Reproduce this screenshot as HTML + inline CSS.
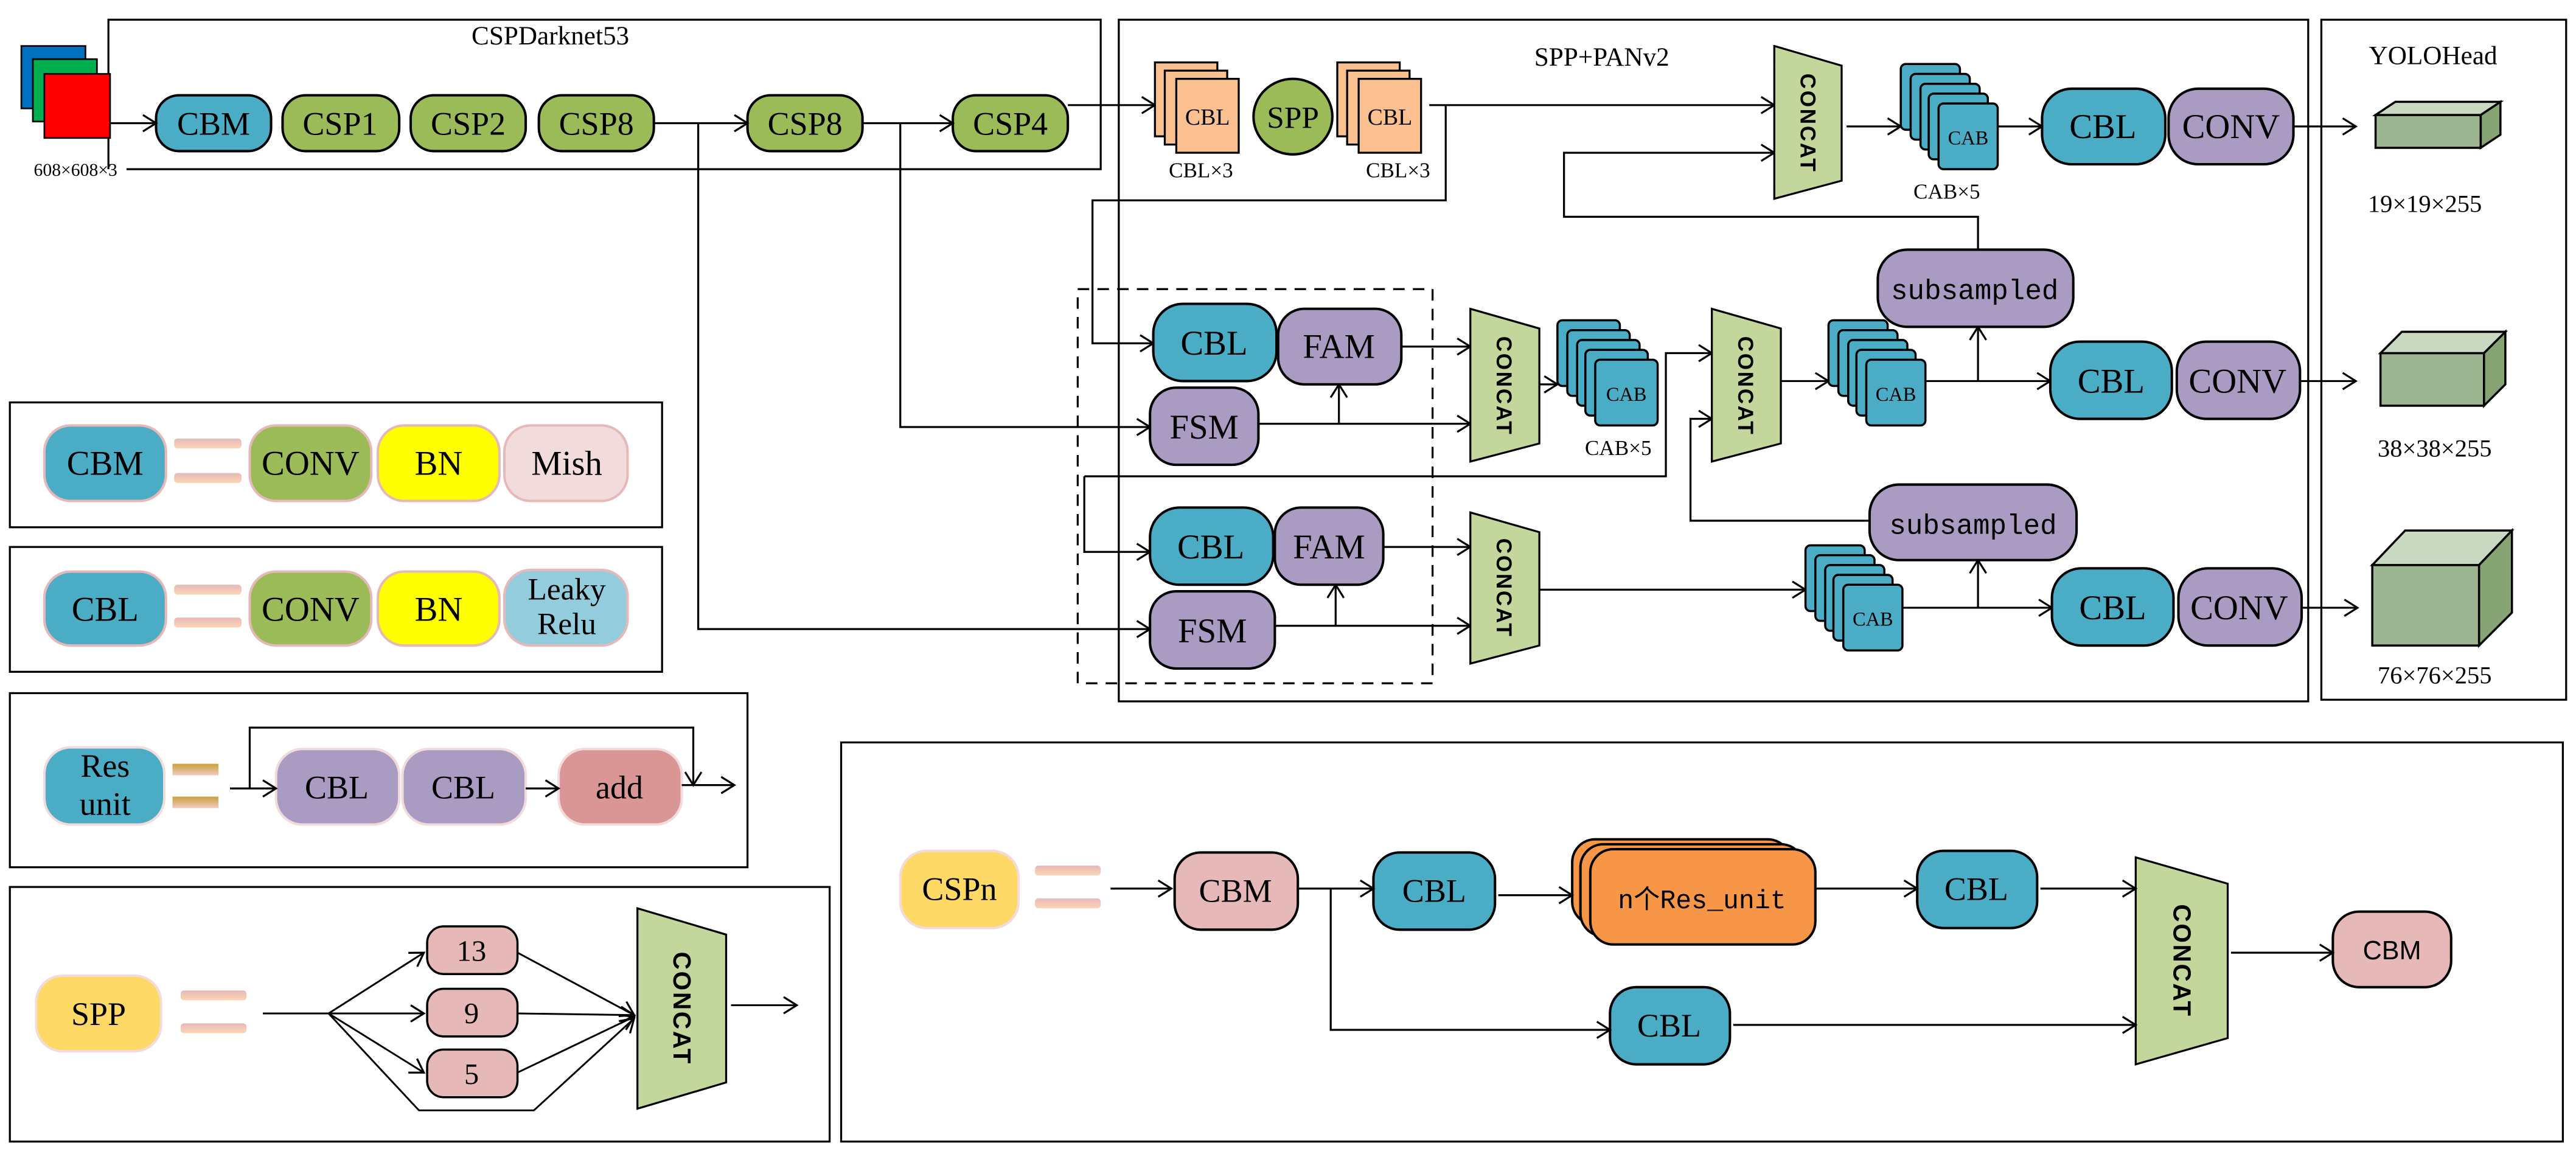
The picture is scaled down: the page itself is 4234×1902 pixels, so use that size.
<!DOCTYPE html>
<html><head><meta charset="utf-8"><style>
html,body{margin:0;padding:0;background:#fff}
svg{display:block}
</style></head><body>
<svg width="4234" height="1902" viewBox="0 0 1568 704.4" preserveAspectRatio="none" xmlns="http://www.w3.org/2000/svg" font-family="'Liberation Serif', serif">
<defs>
<marker id="a" markerWidth="12" markerHeight="12" refX="10" refY="6" orient="auto" markerUnits="userSpaceOnUse"><path d="M2,1 L10,6 L2,11" fill="none" stroke="#000" stroke-width="1.2"/></marker>
<linearGradient id="gb" x1="0" y1="0" x2="0" y2="1"><stop offset="0" stop-color="#c9a23a"/><stop offset="1" stop-color="#f2c9c0"/></linearGradient>
<linearGradient id="pb" x1="0" y1="0" x2="0" y2="1"><stop offset="0" stop-color="#e6b9b8"/><stop offset="1" stop-color="#fbd5b5"/></linearGradient>
</defs>
<g fill="none" stroke="#000" stroke-width="1.2">
<polyline points="66,103 66,12 670,12 670,103 77,103"/>
<rect x="681" y="12" width="724" height="415"/>
<rect x="1413" y="12" width="149" height="414"/>
<rect x="656" y="176" width="216" height="240" stroke-dasharray="7,5"/>
<rect x="6" y="245" width="397" height="76"/>
<rect x="6" y="333" width="397" height="76"/>
<rect x="6" y="422" width="449" height="106"/>
<rect x="6" y="540" width="499" height="155"/>
<rect x="512" y="452" width="1048" height="243"/>
</g>
<rect x="13" y="28" width="39" height="38" fill="#0070c0" stroke="#000"/>
<rect x="20" y="36" width="39" height="38" fill="#00b050" stroke="#000"/>
<rect x="27" y="45" width="40" height="39" fill="#ff0000" stroke="#000"/>
<text x="46" y="107" font-size="11" text-anchor="middle">608×608×3</text>
<text x="335" y="27" font-size="16" text-anchor="middle">CSPDarknet53</text>
<text x="975" y="40" font-size="16" text-anchor="middle">SPP+PANv2</text>
<text x="1481" y="39" font-size="16" text-anchor="middle">YOLOHead</text>
<g stroke="#000" stroke-width="1.5">
<rect x="95" y="58" width="70" height="34" rx="14" fill="#4bacc6"/>
<rect x="172" y="58" width="71" height="34" rx="14" fill="#9bbb59"/>
<rect x="250" y="58" width="70" height="34" rx="14" fill="#9bbb59"/>
<rect x="328" y="58" width="70" height="34" rx="14" fill="#9bbb59"/>
<rect x="455" y="58" width="70" height="34" rx="14" fill="#9bbb59"/>
<rect x="580" y="58" width="70" height="34" rx="14" fill="#9bbb59"/>
</g>
<g font-size="20" text-anchor="middle">
<text x="130" y="82">CBM</text><text x="207" y="82">CSP1</text><text x="285" y="82">CSP2</text><text x="363" y="82">CSP8</text><text x="490" y="82">CSP8</text><text x="615" y="82">CSP4</text>
</g>
<g fill="none" stroke="#000" stroke-width="1.2" marker-end="url(#a)">
<line x1="67" y1="75" x2="95" y2="75"/>
<line x1="398" y1="75" x2="455" y2="75"/>
<line x1="525" y1="75" x2="580" y2="75"/>
<line x1="650" y1="64" x2="703" y2="64"/>
<polyline points="425,75 425,383 700,383"/>
<polyline points="548,75 548,260 700,260"/>
<polyline points="870,64 1080,64"/>
<polyline points="880,64 880,122 665,122 665,209 702,209"/>
<polyline points="1204,152 1204,132 952,132 952,93 1080,93"/>
<line x1="1124" y1="77" x2="1157" y2="77"/>
<line x1="1216" y1="77" x2="1243" y2="77"/>
<line x1="1396" y1="77" x2="1434" y2="77"/>
<line x1="853" y1="211" x2="895" y2="211"/>
<line x1="766" y1="258" x2="895" y2="258"/>
<line x1="815" y1="258" x2="815" y2="234"/>
<line x1="937" y1="234" x2="948" y2="234"/>
<polyline points="660,290 1014,290 1014,215 1042,215"/>
<polyline points="660,290 660,336 700,336"/>
<polyline points="1138,317 1029,317 1029,255 1042,255"/>
<line x1="1084" y1="232" x2="1113" y2="232"/>
<line x1="1172" y1="232" x2="1248" y2="232"/>
<line x1="1204" y1="232" x2="1204" y2="199"/>
<line x1="1400" y1="232" x2="1434" y2="232"/>
<line x1="842" y1="333" x2="895" y2="333"/>
<line x1="776" y1="381" x2="895" y2="381"/>
<line x1="813" y1="381" x2="813" y2="356"/>
<line x1="937" y1="359" x2="1099" y2="359"/>
<line x1="1158" y1="370" x2="1249" y2="370"/>
<line x1="1204" y1="370" x2="1204" y2="341"/>
<line x1="1401" y1="370" x2="1435" y2="370"/>
</g>
<g stroke="#000" stroke-width="1.2" fill="#fac090">
<rect x="703" y="38" width="38" height="45"/><rect x="709" y="43" width="38" height="45"/><rect x="716" y="48" width="38" height="45"/>
<rect x="814" y="38" width="38" height="45"/><rect x="820" y="43" width="38" height="45"/><rect x="827" y="48" width="38" height="45"/>
</g>
<ellipse cx="787" cy="71" rx="24" ry="23" fill="#9bbb59" stroke="#000" stroke-width="1.5"/>
<text x="735" y="76" font-size="14" text-anchor="middle">CBL</text>
<text x="846" y="76" font-size="14" text-anchor="middle">CBL</text>
<text x="787" y="78" font-size="19" text-anchor="middle">SPP</text>
<text x="731" y="108" font-size="13" text-anchor="middle">CBL×3</text>
<text x="851" y="108" font-size="13" text-anchor="middle">CBL×3</text>
<g fill="#c3d69b" stroke="#000" stroke-width="1.2">
<polygon points="1080,28 1121,40 1121,110 1080,121"/>
<polygon points="895,188 937,200 937,270 895,281"/>
<polygon points="1042,188 1084,200 1084,270 1042,281"/>
<polygon points="895,312 937,324 937,393 895,404"/>
<polygon points="388,553 442,569 442,659 388,675"/>
<polygon points="1300,522 1356,538 1356,632 1300,648"/>
</g>
<g font-family="'Liberation Sans', sans-serif" font-weight="bold" font-size="13" letter-spacing="1" text-anchor="middle">
<text transform="translate(1096,75) rotate(90)">CONCAT</text>
<text transform="translate(911,235) rotate(90)">CONCAT</text>
<text transform="translate(1058,235) rotate(90)">CONCAT</text>
<text transform="translate(911,358) rotate(90)">CONCAT</text>
<text transform="translate(410,614) rotate(90)" font-size="15">CONCAT</text>
<text transform="translate(1323,585) rotate(90)" font-size="15">CONCAT</text>
</g>
<g stroke="#000" stroke-width="1.3" fill="#4bacc6">
<rect x="1157" y="39" width="36" height="40" rx="3"/><rect x="1163" y="45" width="36" height="40" rx="3"/><rect x="1169" y="51" width="36" height="40" rx="3"/><rect x="1174" y="57" width="36" height="40" rx="3"/><rect x="1180" y="63" width="36" height="40" rx="3"/>
<rect x="948" y="195" width="38" height="40" rx="3"/><rect x="954" y="201" width="38" height="40" rx="3"/><rect x="960" y="207" width="38" height="40" rx="3"/><rect x="965" y="213" width="38" height="40" rx="3"/><rect x="971" y="219" width="38" height="40" rx="3"/>
<rect x="1113" y="195" width="36" height="40" rx="3"/><rect x="1119" y="201" width="36" height="40" rx="3"/><rect x="1125" y="207" width="36" height="40" rx="3"/><rect x="1130" y="213" width="36" height="40" rx="3"/><rect x="1136" y="219" width="36" height="40" rx="3"/>
<rect x="1099" y="332" width="36" height="40" rx="3"/><rect x="1105" y="338" width="36" height="40" rx="3"/><rect x="1111" y="344" width="36" height="40" rx="3"/><rect x="1116" y="350" width="36" height="40" rx="3"/><rect x="1122" y="356" width="36" height="40" rx="3"/>
</g>
<g font-size="12" text-anchor="middle">
<text x="1198" y="88">CAB</text><text x="990" y="244">CAB</text><text x="1154" y="244">CAB</text><text x="1140" y="381">CAB</text>
</g>
<text x="1185" y="121" font-size="13" text-anchor="middle">CAB×5</text>
<text x="985" y="277" font-size="13" text-anchor="middle">CAB×5</text>
<g stroke="#000" stroke-width="1.5">
<rect x="1243" y="54" width="75" height="46" rx="18" fill="#4bacc6"/><rect x="1320" y="54" width="76" height="46" rx="18" fill="#a99bc2"/>
<rect x="1248" y="208" width="74" height="47" rx="18" fill="#4bacc6"/><rect x="1325" y="208" width="75" height="47" rx="18" fill="#a99bc2"/>
<rect x="1249" y="346" width="74" height="47" rx="18" fill="#4bacc6"/><rect x="1326" y="346" width="75" height="47" rx="18" fill="#a99bc2"/>
<rect x="1143" y="152" width="119" height="47" rx="18" fill="#a99bc2"/>
<rect x="1138" y="295" width="126" height="46" rx="18" fill="#a99bc2"/>
<rect x="702" y="185" width="75" height="47" rx="18" fill="#4bacc6"/><rect x="778" y="188" width="75" height="46" rx="16" fill="#a99bc2"/>
<rect x="700" y="236" width="66" height="47" rx="16" fill="#a99bc2"/>
<rect x="700" y="309" width="75" height="47" rx="18" fill="#4bacc6"/><rect x="776" y="309" width="66" height="47" rx="16" fill="#a99bc2"/>
<rect x="700" y="360" width="76" height="47" rx="16" fill="#a99bc2"/>
</g>
<g font-size="21" text-anchor="middle">
<text x="1280" y="84">CBL</text><text x="1358" y="84">CONV</text>
<text x="1285" y="239">CBL</text><text x="1362" y="239">CONV</text>
<text x="1286" y="377">CBL</text><text x="1363" y="377">CONV</text>
<text x="739" y="216">CBL</text><text x="815" y="218">FAM</text><text x="733" y="267">FSM</text>
<text x="737" y="340">CBL</text><text x="809" y="340">FAM</text><text x="738" y="391">FSM</text>
</g>
<g font-family="'Liberation Mono', monospace" font-size="17" text-anchor="middle">
<text x="1202" y="182">subsampled</text>
<text x="1201" y="325">subsampled</text>
</g>
<g stroke="#000" stroke-width="1.3">
<rect x="1446" y="70" width="64" height="20" fill="#9eb592"/><polygon points="1446,70 1458,62 1522,62 1510,70" fill="#c9d8c0"/><polygon points="1510,70 1522,62 1522,82 1510,90" fill="#86a373"/>
<rect x="1449" y="215" width="63" height="32" fill="#9eb592"/><polygon points="1449,215 1462,202 1525,202 1512,215" fill="#c9d8c0"/><polygon points="1512,215 1525,202 1525,234 1512,247" fill="#86a373"/>
<rect x="1444" y="344" width="65" height="49" fill="#9eb592"/><polygon points="1444,344 1464,323 1529,323 1509,344" fill="#c9d8c0"/><polygon points="1509,344 1529,323 1529,373 1509,393" fill="#86a373"/>
</g>
<g font-size="15" text-anchor="middle">
<text x="1476" y="129">19×19×255</text><text x="1482" y="278">38×38×255</text><text x="1482" y="416">76×76×255</text>
</g>
<g stroke="#e6b9b8" stroke-width="1.5">
<rect x="27" y="259" width="74" height="46" rx="16" fill="#4bacc6"/><rect x="152" y="259" width="74" height="46" rx="16" fill="#9bbb59"/><rect x="230" y="259" width="74" height="46" rx="16" fill="#ffff00"/><rect x="307" y="259" width="75" height="46" rx="16" fill="#f2dcdb"/>
<rect x="27" y="348" width="74" height="45" rx="16" fill="#4bacc6"/><rect x="152" y="348" width="74" height="45" rx="16" fill="#9bbb59"/><rect x="230" y="348" width="74" height="45" rx="16" fill="#ffff00"/><rect x="307" y="347" width="75" height="46" rx="16" fill="#93cddd"/>
</g>
<g fill="url(#pb)"><rect x="106" y="267" width="41" height="6" rx="2"/><rect x="106" y="288" width="41" height="6" rx="2"/><rect x="106" y="356" width="41" height="6" rx="2"/><rect x="106" y="376" width="41" height="6" rx="2"/></g>
<g font-size="21" text-anchor="middle">
<text x="64" y="289">CBM</text><text x="189" y="289">CONV</text><text x="267" y="289">BN</text><text x="345" y="289">Mish</text>
<text x="64" y="378">CBL</text><text x="189" y="378">CONV</text><text x="267" y="378">BN</text><text x="345" y="365" font-size="19">Leaky</text><text x="345" y="386" font-size="19">Relu</text>
</g>
<g stroke="#f2dcdb" stroke-width="1.5">
<rect x="27" y="455" width="73" height="47" rx="16" fill="#4bacc6"/>
<rect x="168" y="456" width="75" height="46" rx="16" fill="#a99bc2"/><rect x="245" y="456" width="75" height="46" rx="16" fill="#a99bc2"/><rect x="340" y="456" width="75" height="46" rx="16" fill="#d99694"/>
</g>
<rect x="105" y="465" width="28" height="7" fill="url(#gb)"/><rect x="105" y="485" width="28" height="7" fill="url(#gb)"/>
<g font-size="20" text-anchor="middle"><text x="64" y="473">Res</text><text x="64" y="496">unit</text><text x="205" y="486">CBL</text><text x="282" y="486">CBL</text><text x="377" y="486">add</text></g>
<g fill="none" stroke="#000" stroke-width="1.2" marker-end="url(#a)">
<line x1="140" y1="480" x2="168" y2="480"/><line x1="320" y1="480" x2="340" y2="480"/>
<polyline points="152,480 152,443 422,443 422,478"/>
<line x1="415" y1="478" x2="447" y2="478"/>
</g>
<rect x="22" y="594" width="76" height="46" rx="16" fill="#ffd966" stroke="#f2dcdb" stroke-width="1.5"/>
<rect x="110" y="603" width="40" height="6" rx="2" fill="url(#pb)"/><rect x="110" y="623" width="40" height="6" rx="2" fill="url(#pb)"/>
<text x="60" y="624" font-size="20" text-anchor="middle">SPP</text>
<g stroke="#000" stroke-width="1.3" fill="#e6b9b8">
<rect x="260" y="564" width="55" height="29" rx="10"/><rect x="260" y="602" width="55" height="29" rx="10"/><rect x="260" y="639" width="55" height="29" rx="10"/>
</g>
<g font-size="18" text-anchor="middle"><text x="287" y="585">13</text><text x="287" y="623">9</text><text x="287" y="660">5</text></g>
<g fill="none" stroke="#000" stroke-width="1.1">
<line x1="160" y1="617" x2="200" y2="617"/>
<line x1="200" y1="617" x2="258" y2="580" marker-end="url(#a)"/>
<line x1="200" y1="617" x2="258" y2="617" marker-end="url(#a)"/>
<line x1="200" y1="617" x2="258" y2="653" marker-end="url(#a)"/>
<polyline points="200,617 255,676 325,676 386,620" marker-end="url(#a)"/>
<line x1="315" y1="580" x2="386" y2="618" marker-end="url(#a)"/>
<line x1="315" y1="617" x2="386" y2="618" marker-end="url(#a)"/>
<line x1="315" y1="653" x2="386" y2="619" marker-end="url(#a)"/>
<line x1="445" y1="612" x2="485" y2="612" marker-end="url(#a)"/>
</g>
<rect x="548" y="518" width="72" height="47" rx="16" fill="#ffd966" stroke="#f2dcdb" stroke-width="1.5"/>
<rect x="630" y="527" width="40" height="6" rx="2" fill="url(#pb)"/><rect x="630" y="547" width="40" height="6" rx="2" fill="url(#pb)"/>
<g stroke="#000" stroke-width="1.5">
<rect x="715" y="519" width="75" height="47" rx="16" fill="#e6b9b8"/>
<rect x="836" y="519" width="74" height="47" rx="16" fill="#4bacc6"/>
<rect x="980" y="601" width="73" height="47" rx="16" fill="#4bacc6"/>
<rect x="1167" y="518" width="73" height="47" rx="16" fill="#4bacc6"/>
<rect x="1420" y="555" width="72" height="46" rx="16" fill="#e6b9b8"/>
<rect x="957" y="511" width="133" height="52" rx="14" fill="#f79646"/>
<rect x="962" y="514" width="136" height="56" rx="14" fill="#f79646"/>
<rect x="968" y="517" width="137" height="58" rx="14" fill="#f79646"/>
</g>
<g font-size="20" text-anchor="middle">
<text x="584" y="548">CSPn</text><text x="752" y="549">CBM</text><text x="873" y="549">CBL</text><text x="1016" y="631">CBL</text><text x="1203" y="548">CBL</text>
</g>
<text x="1456" y="584" font-family="'Liberation Sans', sans-serif" font-size="16" text-anchor="middle">CBM</text>
<text x="1036" y="553" font-family="'Liberation Mono', 'Noto Sans CJK SC', monospace" font-size="16" text-anchor="middle">n个Res_unit</text>
<g fill="none" stroke="#000" stroke-width="1.2" marker-end="url(#a)">
<line x1="676" y1="541" x2="713" y2="541"/>
<line x1="790" y1="541" x2="836" y2="541"/>
<polyline points="810,541 810,627 980,627"/>
<line x1="912" y1="545" x2="957" y2="545"/>
<line x1="1105" y1="541" x2="1167" y2="541"/>
<line x1="1242" y1="541" x2="1300" y2="541"/>
<line x1="1055" y1="624" x2="1300" y2="624"/>
<line x1="1358" y1="580" x2="1420" y2="580"/>
</g>
</svg>
</body></html>
